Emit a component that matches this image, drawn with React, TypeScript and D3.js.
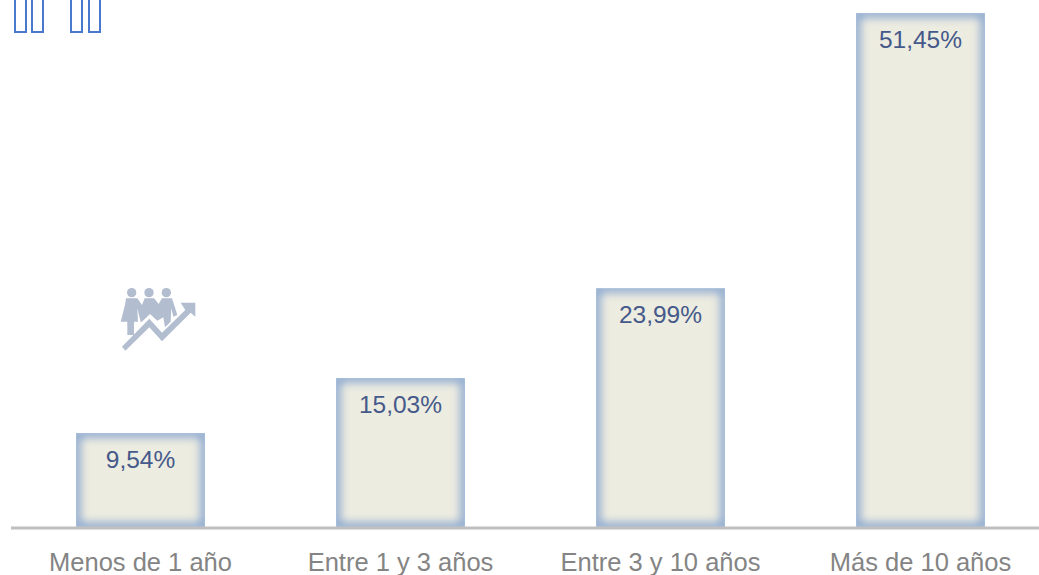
import React from "react";
import * as d3 from "d3";

const categories = ["Menos de 1 año", "Entre 1 y 3 años", "Entre 3 y 10 años", "Más de 10 años"];
const values = [9.54, 15.03, 23.99, 51.45];
const valueLabels = ["9,54%", "15,03%", "23,99%", "51,45%"];
const titleGlyphGroups = [[14, 31], [70, 88]];

const W = 1039;
const H = 575;
const baseY = 527;

export default function App() {
  const x = d3.scaleBand<string>().domain(categories).range([10.5, 1050.5]).paddingInner(0.504).paddingOuter(0.252);
  const y = d3.scaleLinear().domain([0, 51.45]).range([528.6, 13]);
  return (
    <svg width={W} height={H} viewBox={`0 0 ${W} ${H}`} style={{ position: "absolute", left: 0, top: 0, fontFamily: "'Liberation Sans', Arial, sans-serif" }}>
      <defs>
        <filter id="glow" x="-20%" y="-20%" width="140%" height="140%" colorInterpolationFilters="sRGB">
          <feGaussianBlur stdDeviation="5" />
        </filter>
        {categories.map((c, i) => (
          <clipPath key={c} id={`clip${i}`}>
            <rect x={x(c)} y={y(values[i])} width={x.bandwidth()} height={baseY - y(values[i])} />
          </clipPath>
        ))}
      </defs>

      {titleGlyphGroups.flat().map((gx) => (
        <rect key={gx} x={gx + 1} y={-6} width={11} height={38} fill="none" stroke="#4a78cc" strokeWidth={2} />
      ))}

      {categories.map((c, i) => {
        const bx = x(c) as number;
        const by = y(values[i]);
        const bw = x.bandwidth();
        const bh = baseY - by;
        return (
          <g key={c}>
            <rect x={bx} y={by} width={bw} height={bh} fill="#edece1" />
            <g clipPath={`url(#clip${i})`}>
              <rect x={bx} y={by} width={bw} height={bh} fill="none" stroke="#7f9fcd" strokeWidth={8} filter="url(#glow)" />
              <rect x={bx} y={by} width={bw} height={bh} fill="none" stroke="#a8c0e0" strokeWidth={1} />
            </g>
            <text x={bx + bw / 2} y={by + 35} textAnchor="middle" fontSize={24.5} fill="#45598a">
              {valueLabels[i]}
            </text>
            <text x={bx + bw / 2} y={571} textAnchor="middle" fontSize={25.5} fill="#848484">
              {c}
            </text>
          </g>
        );
      })}

      <line x1={11} x2={1039} y1={528} y2={528} stroke="#bfbfbf" strokeWidth={3} />

      <g transform="translate(110,280) scale(0.3333)" fill="#b2bdd0" stroke="none">
        <circle cx={65} cy={38} r={14} />
        <circle cx={117} cy={38} r={14} />
        <circle cx={169} cy={38} r={14} />
        <path d="M48 55 H82 L96 75 L104 55 H132 L146 72 L156 55 H186 L202 105 L190 110 L184 85 L182 125 L165 142 L160 112 L142 122 L120 102 L95 126 L85 122 L92 125 L82 85 L84 125 L72 125 L72 165 L52 165 L52 125 L32 125 L45 75 Z" />
        <path d="M36 200 L118 116 L156 158 L226 90 L212 68 H256 V110 L242 98 L156 184 L118 142 L46 212 Z" />
      </g>
    </svg>
  );
}
